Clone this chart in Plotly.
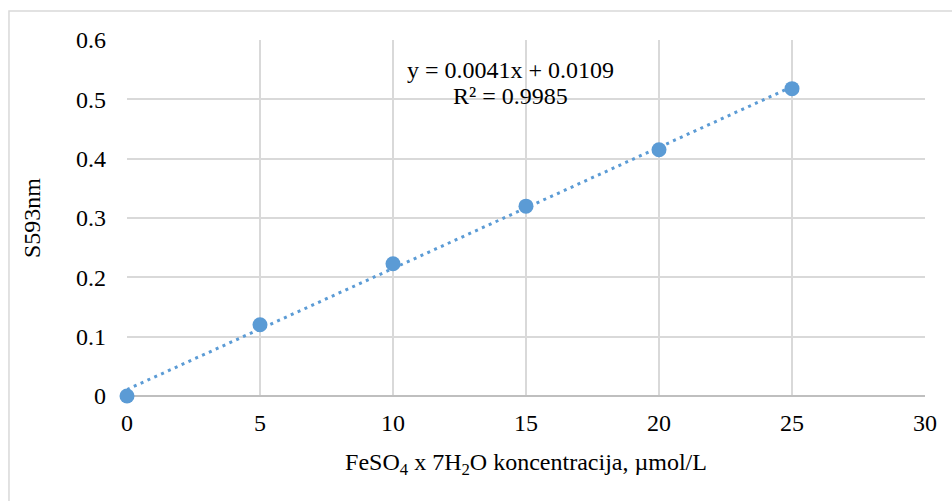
import numpy as np
import plotly.graph_objects as go

# Calibration data: FeSO4 x 7H2O concentration vs. absorbance at 593 nm
concentration = [0, 5, 10, 15, 20, 25]
absorbance = [0.0, 0.120, 0.223, 0.320, 0.415, 0.518]

x_ticks = [0, 5, 10, 15, 20, 25, 30]
y_ticks = [0, 0.1, 0.2, 0.3, 0.4, 0.5, 0.6]
y_tick_text = ["0", "0.1", "0.2", "0.3", "0.4", "0.5", "0.6"]

equation_lines = ["y = 0.0041x + 0.0109", "R² = 0.9985"]

blue = "#5b9bd5"
font_family = "Liberation Serif"
fs = 24

# Linear trendline over the measured range
slope, intercept = np.polyfit(concentration, absorbance, 1)
trend_x = np.array([min(concentration), max(concentration)])
trend_y = slope * trend_x + intercept

fig = go.Figure()

fig.add_trace(go.Scatter(
    x=trend_x, y=trend_y, mode="lines",
    line=dict(color=blue, width=3, dash="3px,4.5px"),
    hoverinfo="skip", showlegend=False,
))

fig.add_trace(go.Scatter(
    x=concentration, y=absorbance, mode="markers",
    marker=dict(color=blue, size=15, line=dict(width=0)),
    showlegend=False, cliponaxis=False,
))

# Trendline equation label, one annotation per line for tight spacing
for text, yv in zip(equation_lines, [0.549, 0.506]):
    fig.add_annotation(
        x=14.4, y=yv, xref="x", yref="y",
        text=text, showarrow=False,
        font=dict(family=font_family, size=fs, color="#000000"),
        align="center",
    )

# Outer chart border
fig.add_shape(
    type="rect", xref="paper", yref="paper",
    x0=-0.1479, x1=1.2, y0=-0.5, y1=1.0815,
    line=dict(color="#d9d9d9", width=1.5),
    fillcolor="rgba(0,0,0,0)", layer="below",
)

fig.update_layout(
    width=952, height=501,
    margin=dict(l=127, r=27, t=40, b=105),
    paper_bgcolor="white", plot_bgcolor="white",
    font=dict(family=font_family, size=fs, color="#000000"),
    xaxis=dict(
        range=[0, 30], tickvals=x_ticks, ticktext=[str(v) for v in x_ticks],
        showgrid=True, gridcolor="#d9d9d9", gridwidth=1.5,
        zeroline=False, showline=False, ticks="",
        ticklabelstandoff=10,
        title=dict(text="FeSO<sub>4</sub> x 7H<sub>2</sub>O koncentracija, µmol/L",
                   font=dict(family=font_family, size=fs), standoff=18),
        tickfont=dict(family=font_family, size=fs),
    ),
    yaxis=dict(
        range=[0, 0.6], tickvals=y_ticks, ticktext=y_tick_text,
        showgrid=True, gridcolor="#d9d9d9", gridwidth=1.5,
        zeroline=True, zerolinecolor="#bfbfbf", zerolinewidth=1.5,
        showline=False, ticks="", ticklabelstandoff=20,
        title=dict(text="S593nm", font=dict(family=font_family, size=fs), standoff=28),
        tickfont=dict(family=font_family, size=fs),
    ),
)

fig.write_html("out.html")
